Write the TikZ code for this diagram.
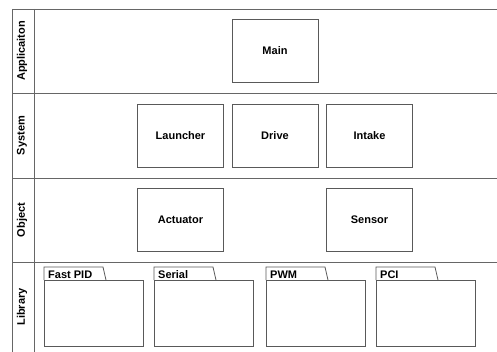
\documentclass[tikz,border=0pt]{standalone}
\usepackage{fontspec}
\setmainfont{Liberation Sans}
\begin{document}
\begin{tikzpicture}[x=1pt,y=-1pt,
  line/.style={draw=black!60,line width=0.8pt},
  comp/.style={draw=black!65,line width=0.8pt,fill=white,rectangle,minimum width=86pt,minimum height=63pt,inner sep=0pt,font=\fontsize{11}{13}\selectfont\bfseries},
  lanelabel/.style={rotate=90,font=\fontsize{11}{13}\selectfont\bfseries,inner sep=0pt},
  pkgbody/.style={draw=black!65,line width=0.8pt,rectangle,minimum width=99pt,minimum height=66pt,inner sep=0pt,anchor=north west},
  pkgtext/.style={font=\fontsize{11}{13}\selectfont\bfseries,inner sep=0pt,anchor=south west}
]
\useasboundingbox (0,0) rectangle (497,352);
% lanes
\coordinate (tl) at (12,9);
\coordinate (tr) at (497,9);
\coordinate (bl) at (12,352);
\draw[line] (tl) -- (tr);
\draw[line] (tl) -- (bl);
\draw[line] (34,9) -- (34,352);
\draw[line] (12,93) -- (497,93);
\draw[line] (12,178) -- (497,178);
\draw[line] (12,262) -- (497,262);
\node[lanelabel] (lapp) at (22,51) {Applicaiton};
\node[lanelabel] (lsys) at (22,135.5) {System};
\node[lanelabel] (lobj) at (22,220) {Object};
\node[lanelabel] (llib) at (22,307) {Library};
% components
\node[comp] (main) at (275,50.5) {Main};
\node[comp] (launcher) at (180.5,135.5) {Launcher};
\node[comp] (drive) at (275,135.5) {Drive};
\node[comp] (intake) at (369.5,135.5) {Intake};
\node[comp] (actuator) at (180.5,220) {Actuator};
\node[comp] (sensor) at (369.5,220) {Sensor};
% packages
\foreach \name/\x/\lab in {fastpid/44/Fast PID, serial/154/Serial, pwm/266/PWM, pci/376/PCI}{
  \draw[draw=black!65,line width=0.8pt] (\x,280) -- (\x,267) -- (\x+59,267) -- (\x+62,280);
  \node[pkgbody] (\name) at (\x,280) {};
  \node[pkgtext] (\name-lab) at (\x+4,278.5) {\lab};
}
\end{tikzpicture}
\end{document}
